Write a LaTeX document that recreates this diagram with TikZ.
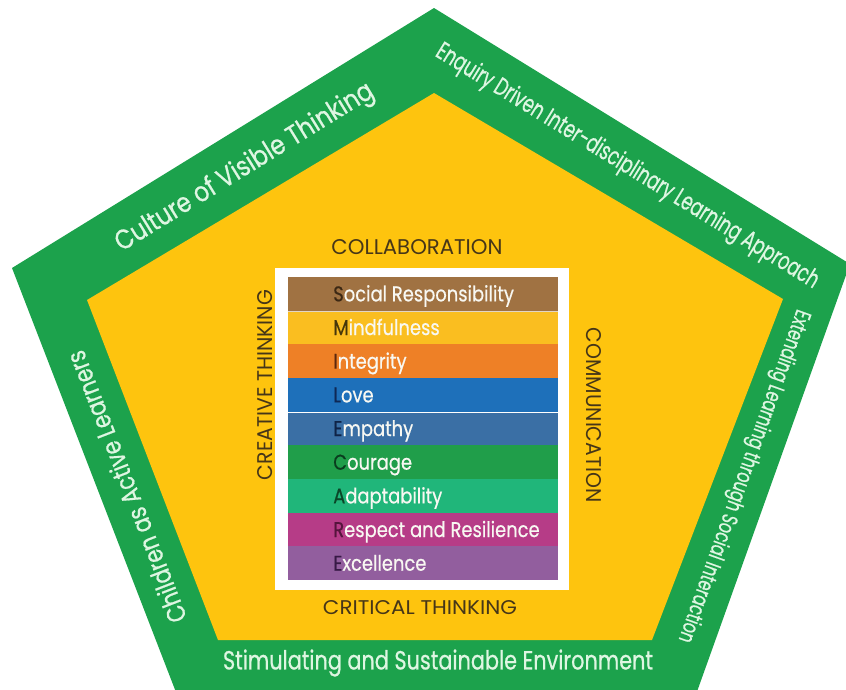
\documentclass[tikz,border=0pt]{standalone}
\usepackage{fontspec}
\usepackage{graphicx}
\setmainfont{Poppins}[FakeStretch=0.85]
\newfontfamily\bandfont{Poppins}[FakeStretch=0.85,FakeBold=0.6]
\newfontfamily\barfont{Poppins}[FakeStretch=0.84,FakeBold=0.5]
\newlength\pxu
\setlength\pxu{0.75pt}
\newcommand{\fitbox}[3]{\resizebox{#1\pxu}{#2\pxu}{#3}}
\definecolor{pgreen}{RGB}{28,162,76}
\definecolor{pyellow}{RGB}{254,196,14}
\definecolor{bandtxt}{RGB}{222,246,226}
\definecolor{lbl}{RGB}{70,54,24}
\definecolor{c1}{RGB}{160,114,66}\definecolor{d1}{RGB}{60,40,20}
\definecolor{c2}{RGB}{250,190,32}\definecolor{d2}{RGB}{70,55,10}
\definecolor{c3}{RGB}{238,128,38}\definecolor{d3}{RGB}{90,40,15}
\definecolor{c4}{RGB}{30,112,186}\definecolor{d4}{RGB}{15,40,85}
\definecolor{c5}{RGB}{58,111,165}\definecolor{d5}{RGB}{15,35,70}
\definecolor{c6}{RGB}{32,158,74}\definecolor{d6}{RGB}{10,60,30}
\definecolor{c7}{RGB}{32,182,122}\definecolor{d7}{RGB}{10,70,40}
\definecolor{c8}{RGB}{182,60,135}\definecolor{d8}{RGB}{85,20,60}
\definecolor{c9}{RGB}{146,94,158}\definecolor{d9}{RGB}{55,25,70}
\definecolor{bartxt}{RGB}{248,248,242}
\tikzset{
  bandlabel/.style={text=bandtxt, inner sep=0pt, anchor=center, font=\bandfont},
  corelabel/.style={text=lbl, inner sep=0pt, anchor=center},
  bar/.style={rectangle, draw=none, inner sep=0pt, minimum width=270\pxu, minimum height=34\pxu},
  bartext/.style={text=bartxt, inner sep=0pt, font=\barfont\fontsize{16pt}{18pt}\selectfont},
}
\begin{document}
\begin{tikzpicture}[x=0.75pt,y=-0.75pt]
\useasboundingbox (0,0) rectangle (846,689);
\clip (0,0) rectangle (846,689);
% pentagons
\fill[pgreen] (434,8) -- (850,264) -- (694,700) -- (179,700) -- (12,268) -- cycle;
\fill[pyellow] (434,93) -- (783,299) -- (652,640) -- (218,640) -- (87,300) -- cycle;
% band labels
\node[bandlabel, rotate=31.6] (culture) at (245,168) {\fitbox{298}{21}{Culture of Visible Thinking}};
\node[bandlabel, rotate=-31.6] (enquiry) at (627,167) {\fitbox{445}{19}{Enquiry Driven Inter-disciplinary Learning Approach}};
\node[bandlabel, rotate=-109.7] (extending) at (743,476) {\fitbox{352}{17}{Extending Learning through Social Interaction}};
\node[bandlabel] (stim) at (438,663) {\fitbox{430}{20}{Stimulating and Sustainable Environment}};
\node[bandlabel, rotate=111.2] (children) at (126,487) {\fitbox{289}{20}{Children as Active Learners}};
% core labels
\node[corelabel] (collab) at (417,247) {\fitbox{171}{15}{COLLABORATION}};
\node[corelabel] (critical) at (420,608) {\fitbox{194}{14}{CRITICAL THINKING}};
\node[corelabel, rotate=90] (creative) at (265.5,385) {\fitbox{190}{15}{CREATIVE THINKING}};
\node[corelabel, rotate=-90] (comm) at (594,415) {\fitbox{175}{15}{COMMUNICATION}};
% white frame
\node[fill=white, draw=none, inner sep=0pt, minimum width=294\pxu, minimum height=322\pxu] (frame) at (422,429) {};
% bars
\foreach \i/\f/\r in {1/S/ocial Responsibility, 2/M/indfulness, 3/I/ntegrity, 4/L/ove, 5/E/mpathy, 6/C/ourage, 7/A/daptability, 8/R/espect and Resilience, 9/E/xcellence}{
  \node[bar, fill=c\i] (bar\i) at (423,{277+33.67*(\i-0.5)}) {};
}
\foreach \i/\f/\r in {1/S/ocial Responsibility, 2/M/indfulness, 3/I/ntegrity, 4/L/ove, 5/E/mpathy, 6/C/ourage, 7/A/daptability, 8/R/espect and Resilience, 9/E/xcellence}{
  \node[bartext, anchor=base west] (lab\i) at (333,{277+33.67*(\i-0.5)+7.5}) {{\color{d\i}\f}\r};
}
\draw[white, line width=0.6pt] (bar4.south west) -- (bar4.south east);
\draw[white!70!c1, line width=0.5pt] (bar1.south west) -- (bar1.south east);
\end{tikzpicture}
\end{document}
